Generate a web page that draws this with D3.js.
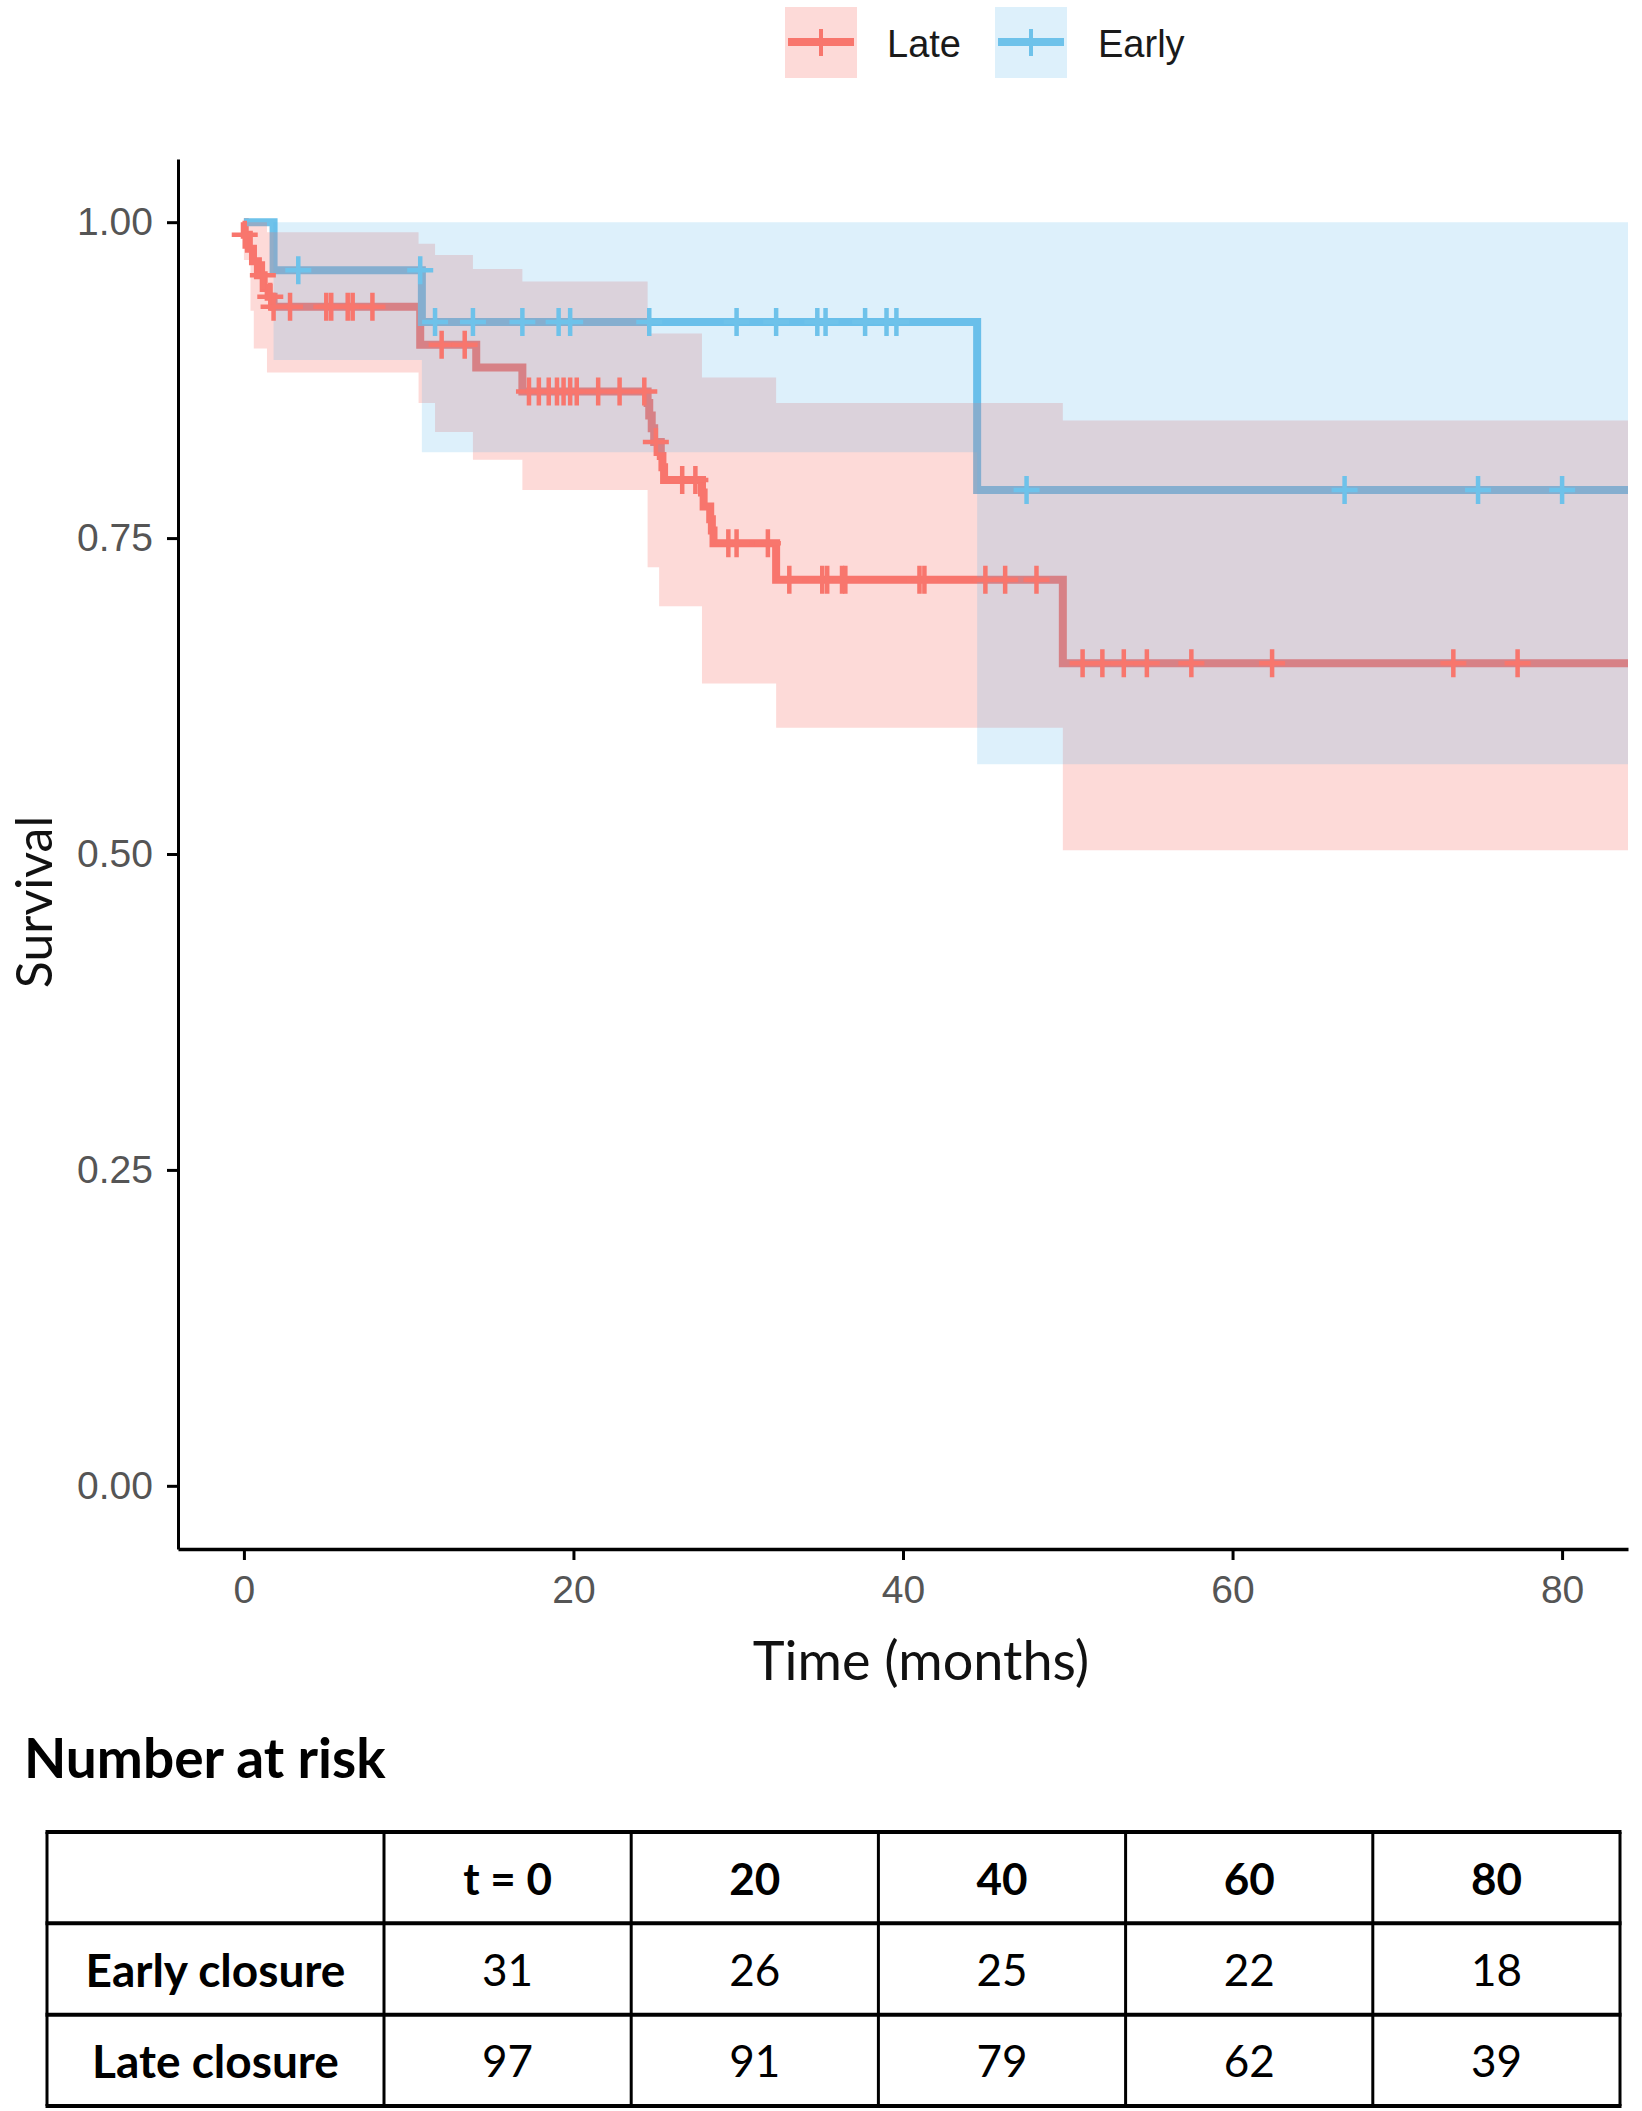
<!DOCTYPE html>
<html>
<head>
<meta charset="utf-8">
<script src="https://cdn.jsdelivr.net/npm/d3@7"></script>
<style>
  body { margin: 0; background: #fff; }
  svg { display: block; }
</style>
</head>
<body>
<svg id="chart"></svg>
<script>
// Kaplan-Meier steps
const lateTime = [0, 0.05, 0.3, 0.55, 0.85, 1.2, 1.5, 1.8, 10.7, 14.1, 16.9, 24.5, 24.6, 24.75, 24.9, 25.3, 25.4, 25.5, 27.8, 27.9, 28.3, 28.4, 28.5, 32.3, 49.7, 84];
const lateSurv = [1.0, 0.990, 0.979, 0.969, 0.958, 0.948, 0.941, 0.933, 0.903, 0.885, 0.866, 0.857, 0.847, 0.837, 0.826, 0.815, 0.806, 0.796, 0.786, 0.775, 0.765, 0.756, 0.746, 0.717, 0.651, 0.651];
const lateCensor = [0.05, 1.15, 1.6, 1.8, 2.8, 5.0, 5.3, 6.3, 6.6, 7.8, 12.0, 13.4, 17.3, 17.9, 18.5, 19.0, 19.4, 19.8, 20.2, 21.5, 22.8, 24.3, 25.0, 26.6, 27.4, 29.4, 29.9, 31.8, 33.1, 35.1, 35.4, 36.3, 36.5, 41.0, 41.3, 45.0, 46.2, 48.1, 50.9, 52.1, 53.4, 54.8, 57.5, 62.4, 73.4, 77.3];
const lateBandTime = [0, 0.4, 0.6, 1.4, 10.6, 11.6, 13.9, 16.9, 24.5, 25.2, 27.8, 32.3, 49.7, 84];
const lateUpper = [1.0, 1.0, 1.0, 0.992, 0.983, 0.974, 0.963, 0.953, 0.912, 0.912, 0.877, 0.857, 0.843, 0.843];
const lateLower = [0.97, 0.93, 0.90, 0.881, 0.857, 0.834, 0.812, 0.788, 0.727, 0.696, 0.635, 0.600, 0.503, 0.503];

const earlyTime = [0, 1.8, 10.8, 44.5, 84];
const earlySurv = [1.0, 0.962, 0.921, 0.788, 0.788];
const earlyCensor = [3.3, 10.7, 11.6, 13.9, 16.9, 19.1, 19.8, 24.6, 29.9, 32.3, 34.8, 35.3, 37.7, 39.0, 39.6, 47.5, 66.8, 74.9, 80.0];
const earlyBandTime = [1.8, 10.8, 44.5, 84];
const earlyUpper = [1.0, 1.0, 1.0, 1.0];
const earlyLower = [0.891, 0.818, 0.571, 0.571];

const xTicks = [0, 20, 40, 60, 80];
const yTicks = [0, 0.25, 0.5, 0.75, 1];

// number at risk table
const riskCols = ["t = 0", "20", "40", "60", "80"];
const riskRows = ["Early closure", "Late closure"];
const earlyRisk = [31, 26, 25, 22, 18];
const lateRisk = [97, 91, 79, 62, 39];

const width = 1642;
const height = 2111;
const lateColor = "#F8766D";
const earlyColor = "#6EC2EA";
const titleFont = "Lato, 'Open Sans', sans-serif";
const axisFont = "'Liberation Sans', Arial, sans-serif";

const svg = d3.select("#chart")
    .attr("width", width)
    .attr("height", height)
    .attr("viewBox", [0, 0, width, height]);

const x = d3.scaleLinear().domain([-4, 84]).range([178, 1628]);
const y = d3.scaleLinear().domain([-0.05, 1.05]).range([1549, 159]);

const zip = (t, s) => t.map((d, i) => [d, s[i]]);
const stepAt = (t, s, v) => s[d3.bisectRight(t, v) - 1];

const line = d3.line()
    .curve(d3.curveStepAfter)
    .x(d => x(d[0]))
    .y(d => y(d[1]));

const area = d3.area()
    .curve(d3.curveStepAfter)
    .x(d => x(d[0]))
    .y0(d => y(d[2]))
    .y1(d => y(d[1]));

const plot = svg.append("g");

// survival lines first, ribbons on top, censor marks last
plot.append("path")
    .datum(zip(lateTime, lateSurv))
    .attr("fill", "none")
    .attr("stroke", lateColor)
    .attr("stroke-width", 8)
    .attr("d", line);

plot.append("path")
    .datum(zip(earlyTime, earlySurv))
    .attr("fill", "none")
    .attr("stroke", earlyColor)
    .attr("stroke-width", 8)
    .attr("d", line);

plot.append("path")
    .datum(lateBandTime.map((t, i) => [t, lateUpper[i], lateLower[i]]))
    .attr("fill", lateColor)
    .attr("fill-opacity", 0.265)
    .attr("d", area);

plot.append("path")
    .datum(earlyBandTime.map((t, i) => [t, earlyUpper[i], earlyLower[i]]))
    .attr("fill", "#56B4E9")
    .attr("fill-opacity", 0.2)
    .attr("d", area);

const plus = (g, times, tArr, sArr, color) => g.selectAll(null)
    .data(times)
    .join("path")
    .attr("stroke", color)
    .attr("stroke-width", 4.5)
    .attr("fill", "none")
    .attr("d", t => {
        const cx = x(t), cy = y(stepAt(tArr, sArr, t));
        return `M${cx},${cy - 14}V${cy + 14}M${cx - 13},${cy}H${cx + 13}`;
    });

plus(plot.append("g"), lateCensor, lateTime, lateSurv, lateColor);
plus(plot.append("g"), earlyCensor, earlyTime, earlySurv, earlyColor);

// axes
const xAxis = g => g
    .attr("transform", `translate(0,${y(-0.05)})`)
    .call(d3.axisBottom(x).tickValues(xTicks).tickSize(11).tickSizeOuter(0).tickPadding(15))
    .call(g => g.select(".domain").attr("stroke-width", 3.5))
    .call(g => g.selectAll(".tick line").attr("stroke-width", 3))
    .call(g => g.selectAll(".tick text")
        .attr("font-family", axisFont)
        .attr("font-size", 39)
        .attr("fill", "#555"));

const yAxis = g => g
    .attr("transform", `translate(${x(-4)},0)`)
    .call(d3.axisLeft(y).tickValues(yTicks).tickFormat(d3.format(".2f")).tickSize(11).tickSizeOuter(0).tickPadding(14))
    .call(g => g.select(".domain").attr("stroke-width", 3))
    .call(g => g.selectAll(".tick line").attr("stroke-width", 3))
    .call(g => g.selectAll(".tick text")
        .attr("font-family", axisFont)
        .attr("font-size", 39)
        .attr("fill", "#555"));

svg.append("g").call(xAxis);
svg.append("g").call(yAxis);

svg.append("text")
    .attr("x", 921)
    .attr("y", 1680)
    .attr("text-anchor", "middle")
    .attr("font-family", titleFont)
    .attr("font-size", 54)
    .attr("fill", "#111")
    .text("Time (months)");

svg.append("text")
    .attr("transform", "translate(52,902) rotate(-90)")
    .attr("text-anchor", "middle")
    .attr("font-family", titleFont)
    .attr("font-size", 50)
    .attr("fill", "#111")
    .text("Survival");

// legend
const legend = svg.append("g");
const keys = [
    {name: "Late", color: lateColor, fill: lateColor, op: 0.265, x0: 785, tx: 887},
    {name: "Early", color: earlyColor, fill: "#56B4E9", op: 0.2, x0: 995, tx: 1098}
];
keys.forEach(k => {
    legend.append("rect")
        .attr("x", k.x0).attr("y", 7)
        .attr("width", 72).attr("height", 71)
        .attr("fill", k.fill).attr("fill-opacity", k.op);
    legend.append("path")
        .attr("stroke", k.color)
        .attr("stroke-width", 8)
        .attr("d", `M${k.x0 + 3},42H${k.x0 + 69}`);
    legend.append("path")
        .attr("stroke", k.color)
        .attr("stroke-width", 4)
        .attr("d", `M${k.x0 + 36},29V56`);
    legend.append("text")
        .attr("x", k.tx).attr("y", 57)
        .attr("font-family", axisFont)
        .attr("font-size", 38)
        .attr("fill", "#1a1a1a")
        .text(k.name);
});

// number at risk
svg.append("text")
    .attr("x", 24)
    .attr("y", 1778)
    .attr("font-family", titleFont)
    .attr("font-weight", "bold")
    .attr("font-size", 55)
    .attr("fill", "#000")
    .text("Number at risk");

const tLeft = 47, tRight = 1620;
const col = d3.scaleBand().domain(riskCols).range([384, tRight]);
const row = d3.scaleBand().domain(["head", ...riskRows]).range([1832, 2106]);

const table = svg.append("g");
const hLines = [...row.domain().map(r => row(r)), 2106];
const vLines = [tLeft, ...riskCols.map(c => col(c)), tRight];

table.selectAll(".h")
    .data(hLines)
    .join("line")
    .attr("x1", tLeft - 1.5).attr("x2", tRight + 1.5)
    .attr("y1", d => d).attr("y2", d => d)
    .attr("stroke", "#000").attr("stroke-width", 4);

table.selectAll(".v")
    .data(vLines)
    .join("line")
    .attr("x1", d => d).attr("x2", d => d)
    .attr("y1", 1832).attr("y2", 2106)
    .attr("stroke", "#000").attr("stroke-width", 3);

const cellText = (tx, ty, str, bold, size) => table.append("text")
    .attr("x", tx).attr("y", ty)
    .attr("text-anchor", "middle")
    .attr("dominant-baseline", "central")
    .attr("font-family", titleFont)
    .attr("font-weight", bold ? "bold" : "normal")
    .attr("font-size", size)
    .attr("fill", "#000")
    .text(str);

const mid = r => row(r) + row.bandwidth() / 2;
riskCols.forEach(c => cellText(col(c) + col.bandwidth() / 2, mid("head"), c, true, 44));
[earlyRisk, lateRisk].forEach((vals, i) => {
    const r = riskRows[i];
    cellText((tLeft + 384) / 2, mid(r), r, true, 46);
    vals.forEach((v, j) => cellText(col(riskCols[j]) + col.bandwidth() / 2, mid(r), v, false, 44));
});
</script>
</body>
</html>
